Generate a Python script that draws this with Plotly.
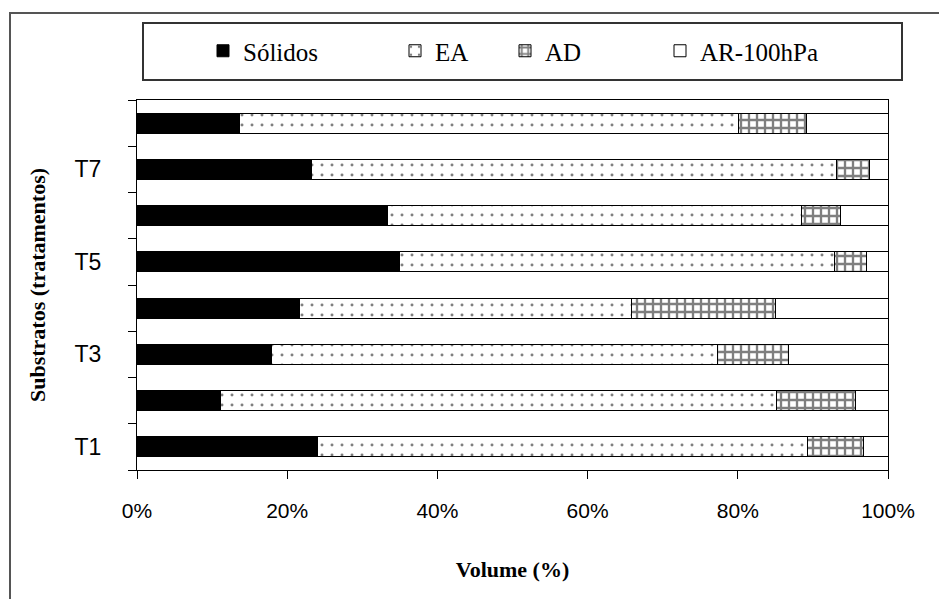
import plotly.graph_objects as go

# ---- data ----
categories = ["T1", "T2", "T3", "T4", "T5", "T6", "T7", "T8"]
shown_tick_labels = ["T1", "T3", "T5", "T7"]
solidos = [24.1, 11.1, 17.9, 21.7, 35.0, 33.4, 23.3, 13.7]
ea = [65.2, 74.0, 59.4, 44.2, 57.9, 55.1, 69.8, 66.4]
ad = [7.4, 10.6, 9.4, 19.1, 4.3, 5.2, 4.5, 9.1]
ar_100hpa = [3.3, 4.3, 13.3, 15.0, 2.8, 6.3, 2.4, 10.8]
x_tick_values = [0, 20, 40, 60, 80, 100]
x_tick_labels = ["0%", "20%", "40%", "60%", "80%", "100%"]
series_names = ["Sólidos", "EA", "AD", "AR-100hPa"]

# ---- layout geometry (pixels) ----
W, H = 939, 599
L, R, T, B = 137, 51, 100, 129
PW, PH = W - L - R, H - T - B


def px_x(p):
    return (p - L) / PW


def px_y(p):
    return (H - B - p) / PH


serif = "Liberation Serif, Times New Roman, serif"
sans = "Liberation Sans, Arial, sans-serif"

fig = go.Figure()

styles = [
    dict(color="black", pattern=None),
    dict(color="white", pattern=dict(shape=".", fgcolor="black", bgcolor="white",
                                    size=10, solidity=0.07, fillmode="overlay")),
    dict(color="white", pattern=dict(shape="+", fgcolor="black", bgcolor="white",
                                    size=8, solidity=0.5, fillmode="overlay")),
    dict(color="white", pattern=None),
]
values = [solidos, ea, ad, ar_100hpa]
legend_ids = ["legend", "legend2", "legend3", "legend4"]

for name, vals, st, lg in zip(series_names, values, styles, legend_ids):
    marker = dict(color=st["color"], line=dict(color="black", width=1))
    if st["pattern"] is not None:
        marker["pattern"] = st["pattern"]
    fig.add_trace(go.Bar(
        y=categories, x=vals, name=name, orientation="h",
        marker=marker, legend=lg,
    ))

tick_text = [c if c in shown_tick_labels else "" for c in categories]

# legend text start positions (pixels) -> legend x
legend_text_px = [245, 437, 547, 702]
leg_common = dict(orientation="h", yanchor="middle", y=px_y(51), xanchor="left",
                  font=dict(family=serif, size=25, color="black"),
                  bgcolor="rgba(0,0,0,0)", borderwidth=0, itemwidth=30)
legend_layouts = {}
for lg, tx in zip(legend_ids, legend_text_px):
    legend_layouts[lg] = dict(leg_common, x=px_x(tx - 42))

fig.update_layout(
    width=W, height=H,
    margin=dict(l=L, r=R, t=T, b=B),
    barmode="stack",
    bargap=0.57,
    plot_bgcolor="white",
    paper_bgcolor="white",
    showlegend=True,
    **legend_layouts,
    xaxis=dict(
        range=[0, 100], tickvals=x_tick_values, ticktext=x_tick_labels,
        showgrid=False, zeroline=False,
        showline=True, linecolor="black", linewidth=1, mirror=True,
        ticks="outside", ticklen=8, tickcolor="black",
        tickfont=dict(family=sans, size=21, color="black"),
        ticklabelstandoff=14,
        title=dict(text="<b>Volume (%)</b>", font=dict(family=serif, size=22, color="black"),
                   standoff=40),
    ),
    yaxis=dict(
        type="category", categoryorder="array", categoryarray=categories,
        tickvals=categories, ticktext=tick_text, tickson="boundaries",
        showgrid=False, zeroline=False,
        showline=True, linecolor="black", linewidth=1, mirror=True,
        ticks="outside", ticklen=8, tickcolor="black",
        tickfont=dict(family=sans, size=23, color="black"),
        ticklabelstandoff=30,
        title=dict(text="<b>Substratos (tratamentos)</b>", font=dict(family=serif, size=22, color="black"),
                   standoff=22),
    ),
    shapes=[
        # outer chart border
        dict(type="rect", xref="paper", yref="paper",
             x0=px_x(10), x1=px_x(960), y0=px_y(640), y1=px_y(13),
             line=dict(color="#555555", width=2), fillcolor="rgba(0,0,0,0)", layer="below"),
        # legend box
        dict(type="rect", xref="paper", yref="paper",
             x0=px_x(143), x1=px_x(902), y0=px_y(80), y1=px_y(23),
             line=dict(color="#333333", width=2), fillcolor="rgba(0,0,0,0)"),
    ],
)

fig.write_html("out.html", config={"displayModeBar": False},
               post_script="document.body.style.margin='0';")
